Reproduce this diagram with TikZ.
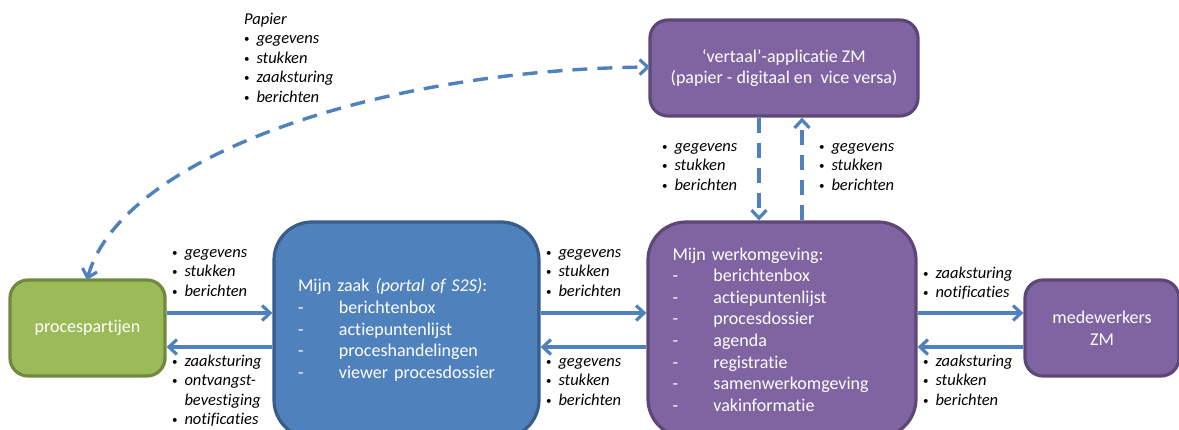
\documentclass[tikz,border=0pt]{standalone}
\usepackage{fontspec}
\setmainfont[Ligatures=NoCommon]{Carlito}
\usetikzlibrary{arrows.meta}
\definecolor{cgreen}{HTML}{9BBB59}
\definecolor{cgreenb}{HTML}{71893F}
\definecolor{cblue}{HTML}{4F81BD}
\definecolor{cblueb}{HTML}{385D8A}
\definecolor{cpurple}{HTML}{8064A2}
\definecolor{cpurpleb}{HTML}{5C4776}
\newcommand{\blt}{\raisebox{1pt}{\fontsize{11}{11}\selectfont\textbullet}}
\newcommand{\rl}{\rule{0pt}{12pt}}
\newcommand{\bul}[1]{\rl\makebox[12.3pt][l]{\blt}\textit{#1}\\}
\newcommand{\cont}[1]{\rl\makebox[12.3pt][l]{}\textit{#1}\\}
\newcommand{\dsh}[1]{\makebox[41pt][l]{-}#1\\}
\tikzset{
  x=1pt,y=-1pt,
  box/.style={draw,line width=3.2pt,rounded corners=#1,inner sep=0pt,text=white,font=\fontsize{18}{21.6}\selectfont},
  green box/.style={box=18pt,fill=cgreen,draw=cgreenb},
  blue box/.style={box=38pt,fill=cblue,draw=cblueb},
  purple box/.style={box=18pt,fill=cpurple,draw=cpurpleb},
  big purple/.style={box=38pt,fill=cpurple,draw=cpurpleb},
  lab/.style={anchor=north west,align=left,inner sep=0pt,font=\fontsize{16.5}{19.5}\selectfont},
  flow/.style={draw=cblue,line width=3.4pt,-{Straight Barb[length=8pt,width=15pt,line width=3.2pt]}},
  dflow/.style={flow,dash pattern=on 15pt off 10pt},
}
\begin{document}
\begin{tikzpicture}
\useasboundingbox (0,0) rectangle (1179,430);
\clip (0,0) rectangle (1179,430);
\node[green box,minimum width=155pt,minimum height=96pt,align=center] (pp) at (87.5,328) {procespartijen};
\node[blue box,minimum width=265pt,minimum height=216pt,text width=217pt,align=left,inner xsep=24pt,inner ysep=0pt] (mz) at (406.5,330)
  {Mijn zaak \textit{(portal of S2S)}:\\\dsh{berichtenbox}\dsh{actiepuntenlijst}\dsh{proceshandelingen}\dsh{viewer procesdossier}};
\node[big purple,minimum width=268pt,minimum height=215pt,text width=219pt,align=left,inner xsep=24.5pt,inner ysep=0pt] (mw) at (782,329.5)
  {Mijn werkomgeving:\\\dsh{berichtenbox}\dsh{actiepuntenlijst}\dsh{procesdossier}\dsh{agenda}\dsh{registratie}\dsh{samenwerkomgeving}\dsh{vakinformatie}};
\node[purple box,minimum width=154pt,minimum height=96pt,align=center] (me) at (1102,328) {medewerkers\\ZM};
\node[purple box,minimum width=268pt,minimum height=96pt,align=center] (va) at (784,68) {‘vertaal’-applicatie ZM\\(papier - digitaal en~ vice versa)};

\coordinate (upper) at (0,313);
\coordinate (lower) at (0,347);
\coordinate (dn) at (759,0);
\coordinate (up) at (802,0);
\draw[flow] (pp.east |- upper) -- (mz.west |- upper);
\draw[flow] (mz.west |- lower) -- (pp.east |- lower);
\draw[flow] (mz.east |- upper) -- (mw.west |- upper);
\draw[flow] (mw.west |- lower) -- (mz.east |- lower);
\draw[flow] (mw.east |- upper) -- (me.west |- upper);
\draw[flow] (me.west |- lower) -- (mw.east |- lower);
\draw[dflow] (dn |- va.south) -- (dn |- mw.north);
\draw[dflow] (up |- mw.north) -- (up |- va.south);
\coordinate (ppt) at (87,280);
\coordinate (vaw) at (650,67);
\draw[dflow,{Straight Barb[length=8pt,width=15pt,line width=3.2pt]}-{Straight Barb[length=8pt,width=15pt,line width=3.2pt]}]
  (ppt) .. controls (120,160) and (370,70) .. (vaw);

\node[lab] (l1) at (244,12) {\rl\textit{Papier}\\\bul{gegevens}\bul{stukken}\bul{zaaksturing}\bul{berichten}};
\node[lab] (l2) at (172,245) {\bul{gegevens}\bul{stukken}\bul{berichten}};
\node[lab] (l3) at (172,354) {\bul{zaaksturing}\bul{ontvangst-}\cont{bevestiging}\bul{notificaties}};
\node[lab] (l4) at (546,245) {\bul{gegevens}\bul{stukken}\bul{berichten}};
\node[lab] (l5) at (546,354) {\bul{gegevens}\bul{stukken}\bul{berichten}};
\node[lab] (l6) at (662,139) {\bul{gegevens}\bul{stukken}\bul{berichten}};
\node[lab] (l7) at (819,139) {\bul{gegevens}\bul{stukken}\bul{berichten}};
\node[lab] (l8) at (923,266) {\bul{zaaksturing}\bul{notificaties}};
\node[lab] (l9) at (923,354) {\bul{zaaksturing}\bul{stukken}\bul{berichten}};
\end{tikzpicture}
\end{document}
